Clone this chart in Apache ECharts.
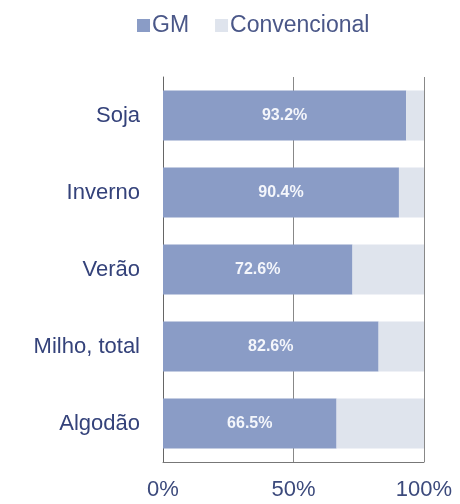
<!DOCTYPE html>
<html><head><meta charset="utf-8">
<script src="https://cdn.jsdelivr.net/npm/echarts@6/dist/echarts.min.js"></script>
<style>html,body{margin:0;padding:0;background:#fff}#c{width:460px;height:504px}</style>
</head><body><div id="c"></div>
<script>
const categories = ['Soja', 'Inverno', 'Verão', 'Milho, total', 'Algodão'];
const gmValues = [93.2, 90.4, 72.6, 82.6, 66.5];
const convValues = [6.8, 9.6, 27.4, 17.4, 33.5];
const xTicks = [0, 50, 100];

const chart = echarts.init(document.getElementById('c'));
chart.setOption({
  animation: false,
  legend: {
    top: 9, left: 132, itemWidth: 13, itemHeight: 13, itemGap: 26,
    icon: 'rect',
    textStyle: { fontFamily: 'Liberation Sans, Arial', fontSize: 23, color: '#4a5788', padding: [0, 0, 0, -3] },
    data: ['GM', 'Convencional']
  },
  grid: { left: 163, right: 36, top: 77, bottom: 42 },
  xAxis: {
    type: 'value', min: 0, max: 100, interval: 50,
    axisLine: { show: true, onZero: false, lineStyle: { color: '#777' } },
    axisTick: { show: false },
    splitLine: { show: true, lineStyle: { color: '#888', width: 1 } },
    axisLabel: { formatter: v => xTicks.includes(v) ? v + '%' : '', margin: 17,
      fontFamily: 'Liberation Sans, Arial', fontSize: 22, color: '#3c4a7c' }
  },
  yAxis: {
    type: 'category', inverse: true, data: categories,
    axisLine: { show: true, lineStyle: { color: '#666', width: 1 } },
    axisTick: { show: false },
    axisLabel: { margin: 23, fontFamily: 'Liberation Sans, Arial', fontSize: 22, color: '#34427a' }
  },
  series: [
    { name: 'GM', type: 'bar', stack: 't', data: gmValues, barWidth: '65%',
      itemStyle: { color: '#8a9cc6' },
      label: { show: true, position: 'inside', formatter: p => p.value.toFixed(1) + '%',
        color: '#f4f6fb', fontSize: 16, fontWeight: 'bold', fontFamily: 'Liberation Sans, Arial' } },
    { name: 'Convencional', type: 'bar', stack: 't', data: convValues,
      itemStyle: { color: '#dfe4ed' } }
  ]
});
</script></body></html>
